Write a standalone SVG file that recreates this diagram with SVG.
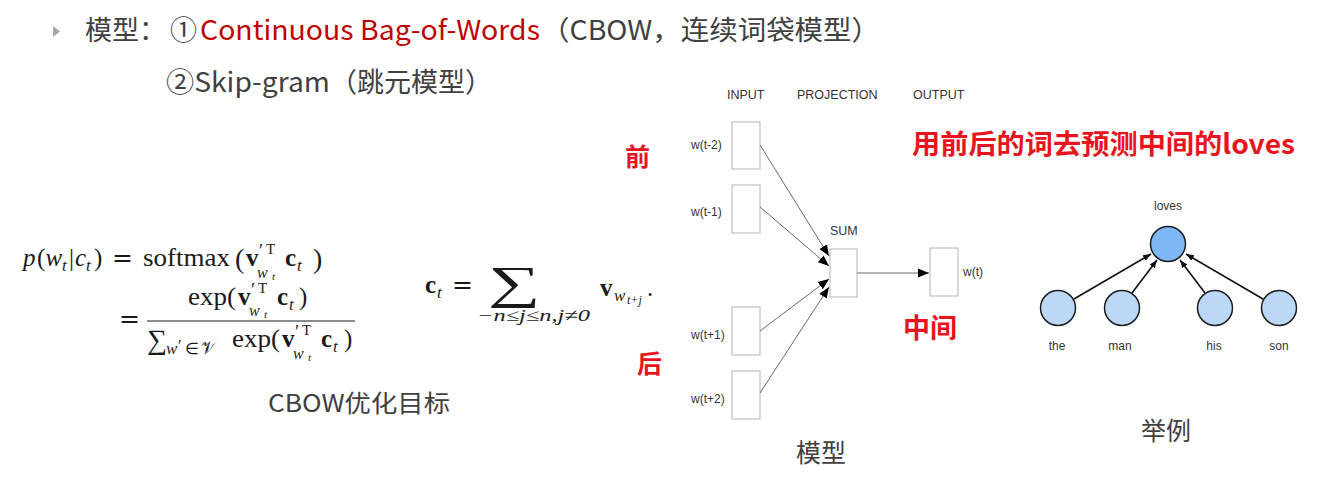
<svg xmlns="http://www.w3.org/2000/svg" width="1318" height="477" viewBox="0 0 1318 477">
<defs>
<style>
.cjk{font-family:"Noto Sans CJK SC","Noto Sans",sans-serif;}
.grey{fill:#404040;}
.red{fill:#c00000;}
.bred{fill:#e8141e;font-weight:bold;font-family:"Noto Sans CJK SC","Noto Sans",sans-serif;}
.m{font-family:"Liberation Serif",serif;fill:#1a1a1a;}
.mi{font-family:"Liberation Serif",serif;font-style:italic;fill:#1a1a1a;}
.mb{font-family:"Liberation Serif",serif;font-weight:bold;fill:#1a1a1a;}
.eq{font-family:"DejaVu Serif",serif;fill:#1a1a1a;}
.lab{font-family:"Liberation Sans",Arial,sans-serif;fill:#333;}
.box{fill:#fff;stroke:#b4b4b4;stroke-width:1;}
.ln{stroke:#444;stroke-width:0.8;fill:none;}
.gl{stroke:#111;stroke-width:1.6;fill:none;}
.top{fill:#7db8f4;stroke:#1e1e1e;stroke-width:1.5;}
.bot{fill:#bcd8f7;stroke:#1e1e1e;stroke-width:1.5;}
</style>
<marker id="ah" viewBox="0 0 10 10" refX="10" refY="5" markerWidth="11" markerHeight="11" markerUnits="userSpaceOnUse" orient="auto">
<path d="M0,1 L10,5 L0,9 z" fill="#000"/>
</marker>
<marker id="ah2" viewBox="0 0 10 10" refX="10" refY="5" markerWidth="8" markerHeight="8" markerUnits="userSpaceOnUse" orient="auto">
<path d="M0,1 L10,5 L0,9 z" fill="#111"/>
</marker>
</defs>
<rect width="1318" height="477" fill="#fff"/>

<!-- title -->
<g id="title">
<path d="M53,26 L60,31.5 L53,37 z" fill="#a6a6a6"/>
<text x="85" y="40" font-size="27" class="cjk grey">模型：</text>
<text x="170" y="40" font-size="27" class="cjk grey">①</text>
<text x="200" y="40" font-size="27" class="cjk red" textLength="340" lengthAdjust="spacingAndGlyphs">Continuous Bag-of-Words</text>
<text x="541" y="40" font-size="27" class="cjk grey" textLength="339" lengthAdjust="spacingAndGlyphs">（CBOW，连续词袋模型）</text>
<text x="166" y="92" font-size="27" class="cjk grey" textLength="164" lengthAdjust="spacingAndGlyphs">②Skip-gram</text>
<text x="330" y="92" font-size="27" class="cjk grey" textLength="162" lengthAdjust="spacingAndGlyphs">（跳元模型）</text>
</g>

<!-- formula 1 -->
<g id="formula-softmax">
<text x="23" y="266" font-size="25" class="mi">p</text>
<text x="37" y="266" font-size="25" class="m">(</text>
<text x="45.5" y="266" font-size="25" class="mi">w</text>
<text x="62" y="271" font-size="17" class="mi">t</text>
<text x="69" y="266" font-size="25" class="m">|</text>
<text x="75" y="266" font-size="25" class="mi">c</text>
<text x="86" y="271" font-size="17" class="mi">t</text>
<text x="94" y="266" font-size="25" class="m">)</text>
<text x="112" y="266" font-size="25" class="eq">=</text>
<text x="143" y="266" font-size="25" class="m" textLength="87" lengthAdjust="spacingAndGlyphs">softmax</text>
<text x="235" y="268" font-size="28" class="m">(</text>
<text x="246" y="266" font-size="25" class="mb">v</text>
<text x="259" y="257" font-size="19" class="m">′</text>
<text x="266" y="254" font-size="15" class="m">T</text>
<text x="257" y="278" font-size="16" class="mi">w</text>
<text x="272" y="280" font-size="11" class="mi">t</text>
<text x="285" y="266" font-size="25" class="mb">c</text>
<text x="297" y="271" font-size="17" class="mi">t</text>
<text x="313" y="268" font-size="28" class="m">)</text>

<text x="119" y="327" font-size="25" class="eq">=</text>
<text x="188" y="305" font-size="25" class="m" textLength="48" lengthAdjust="spacingAndGlyphs">exp(</text>
<text x="238" y="305" font-size="25" class="mb">v</text>
<text x="251" y="296" font-size="19" class="m">′</text>
<text x="258" y="293" font-size="15" class="m">T</text>
<text x="249" y="316" font-size="16" class="mi">w</text>
<text x="264" y="318" font-size="11" class="mi">t</text>
<text x="277" y="305" font-size="25" class="mb">c</text>
<text x="289" y="310" font-size="17" class="mi">t</text>
<text x="299" y="305" font-size="25" class="m">)</text>
<line x1="147" y1="321" x2="355" y2="321" stroke="#1a1a1a" stroke-width="1.2"/>
<text x="147" y="349" font-size="28" class="m">∑</text>
<text x="166" y="354" font-size="17" class="mi">w</text>
<text x="178" y="351" font-size="16" class="m">′</text>
<text x="185" y="354" font-size="16" class="m">∈</text>
<text x="201" y="354" font-size="17" class="m">𝒱</text>
<text x="232" y="347" font-size="25" class="m" textLength="48" lengthAdjust="spacingAndGlyphs">exp(</text>
<text x="282" y="347" font-size="25" class="mb">v</text>
<text x="295" y="338" font-size="19" class="m">′</text>
<text x="302" y="335" font-size="15" class="m">T</text>
<text x="293" y="359" font-size="16" class="mi">w</text>
<text x="308" y="361" font-size="11" class="mi">t</text>
<text x="321" y="347" font-size="25" class="mb">c</text>
<text x="333" y="352" font-size="17" class="mi">t</text>
<text x="344" y="347" font-size="25" class="m">)</text>
</g>

<!-- formula 2 -->
<g id="formula-ct">
<text x="425" y="293" font-size="25" class="mb">c</text>
<text x="437" y="298" font-size="17" class="mi">t</text>
<text x="452" y="293" font-size="25" class="eq">=</text>
<text transform="translate(488,298) scale(1.6,1)" font-size="46" class="m">∑</text>
<text x="477" y="321" font-size="17" class="mi" textLength="113" lengthAdjust="spacingAndGlyphs">−n≤j≤n,j≠0</text>
<text x="600" y="296" font-size="25" class="mb">v</text>
<text x="614" y="301" font-size="17" class="mi">w</text>
<text x="627" y="304" font-size="12" class="mi">t+j</text>
<text x="647" y="296" font-size="25" class="m">.</text>
</g>

<text x="268" y="412" font-size="24" class="cjk grey" textLength="182" lengthAdjust="spacingAndGlyphs">CBOW优化目标</text>

<!-- red annotations -->
<text x="625" y="166" font-size="25" class="bred">前</text>
<text x="637" y="373" font-size="25" class="bred">后</text>
<text x="903" y="338" font-size="27" class="bred">中间</text>
<text x="912" y="154" font-size="27" class="bred" textLength="383" lengthAdjust="spacingAndGlyphs">用前后的词去预测中间的loves</text>

<!-- CBOW model -->
<g id="headers">
<text x="727" y="99" font-size="12.5" class="lab">INPUT</text>
<text x="797" y="99" font-size="12.5" class="lab">PROJECTION</text>
<text x="913" y="99" font-size="12.5" class="lab">OUTPUT</text>
</g>
<g id="in-t-2"><rect x="732" y="122" width="28" height="47" class="box"/><text x="691" y="149" font-size="12" class="lab">w(t-2)</text></g>
<g id="in-t-1"><rect x="732" y="185" width="28" height="48" class="box"/><text x="691" y="216" font-size="12" class="lab">w(t-1)</text></g>
<g id="in-t+1"><rect x="732" y="307" width="28" height="48" class="box"/><text x="691" y="339" font-size="12" class="lab">w(t+1)</text></g>
<g id="in-t+2"><rect x="732" y="371" width="28" height="48" class="box"/><text x="691" y="403" font-size="12" class="lab">w(t+2)</text></g>
<g id="sum"><rect x="830" y="249" width="27" height="48" class="box"/><text x="830" y="235" font-size="12.5" class="lab">SUM</text></g>
<g id="out"><rect x="930" y="248" width="28" height="48" class="box"/><text x="963" y="276" font-size="12" class="lab">w(t)</text></g>
<g id="connectors-model">
<line x1="760" y1="145" x2="829" y2="256" class="ln" marker-end="url(#ah)"/>
<line x1="760" y1="207" x2="829" y2="266" class="ln" marker-end="url(#ah)"/>
<line x1="760" y1="331" x2="829" y2="279" class="ln" marker-end="url(#ah)"/>
<line x1="760" y1="393" x2="829" y2="287" class="ln" marker-end="url(#ah)"/>
<line x1="857" y1="273" x2="929" y2="273" class="ln" marker-end="url(#ah)"/>
</g>
<text x="796" y="462" font-size="25" class="cjk grey">模型</text>

<!-- example graph -->
<g id="n-loves"><circle cx="1168" cy="244" r="17.5" class="top"/><text x="1168" y="210" font-size="12" class="lab" text-anchor="middle">loves</text></g>
<g id="n-the"><circle cx="1058" cy="308" r="17.5" class="bot"/><text x="1057" y="350" font-size="12" class="lab" text-anchor="middle">the</text></g>
<g id="n-man"><circle cx="1122" cy="308" r="17.5" class="bot"/><text x="1120" y="350" font-size="12" class="lab" text-anchor="middle">man</text></g>
<g id="n-his"><circle cx="1215" cy="308" r="17.5" class="bot"/><text x="1214" y="350" font-size="12" class="lab" text-anchor="middle">his</text></g>
<g id="n-son"><circle cx="1279" cy="308" r="17.5" class="bot"/><text x="1279" y="350" font-size="12" class="lab" text-anchor="middle">son</text></g>
<g id="connectors-example">
<line x1="1074" y1="299" x2="1151" y2="254" class="gl" marker-end="url(#ah2)"/>
<line x1="1132" y1="293" x2="1157" y2="260" class="gl" marker-end="url(#ah2)"/>
<line x1="1205" y1="293" x2="1180" y2="260" class="gl" marker-end="url(#ah2)"/>
<line x1="1263" y1="299" x2="1186" y2="254" class="gl" marker-end="url(#ah2)"/>
</g>
<text x="1141" y="440" font-size="25" class="cjk grey">举例</text>
</svg>
